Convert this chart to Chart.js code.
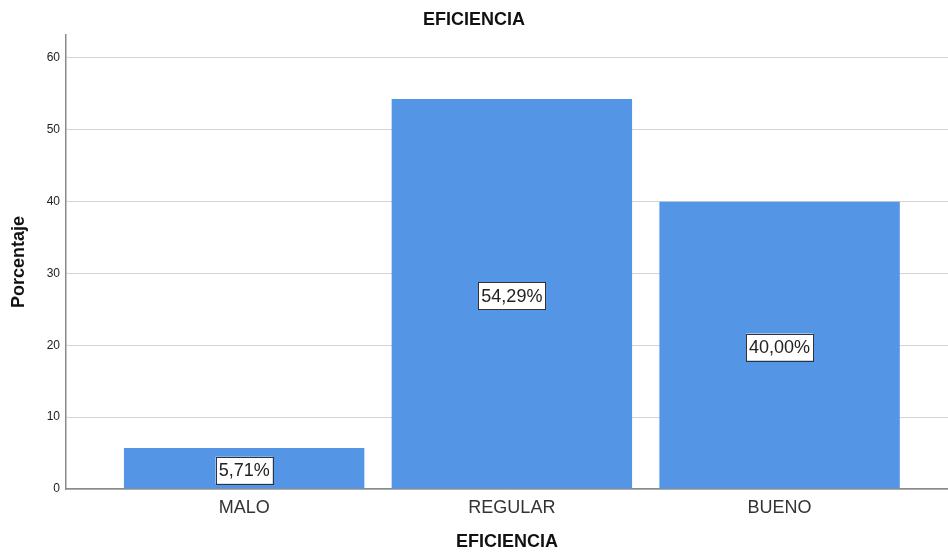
<!DOCTYPE html>
<html>
<head>
<meta charset="utf-8">
<script src="https://cdn.jsdelivr.net/npm/chart.js@4"></script>
<style>
  html, body { margin: 0; padding: 0; background: #fff; }
  #wrap { width: 948px; height: 553px; }
</style>
</head>
<body>
<div id="wrap"><canvas id="eficiencia"></canvas></div>
<script>
// data
let categorias = ['MALO', 'REGULAR', 'BUENO'];
let porcentajes = [5.71, 54.29, 40.00];
let yTicks = [0, 10, 20, 30, 40, 50, 60];

let fuente = "'Liberation Sans', Arial, sans-serif";

// bars sit on a linear x axis at 1, 2, 3 so the empty margin on the left matches
let puntos = porcentajes.map((v, i) => ({ x: i + 1, y: v }));

// boxed value labels in the middle of each bar
let etiquetas = {
  id: 'etiquetas',
  afterDatasetsDraw(chart) {
    let ctx = chart.ctx;
    let meta = chart.getDatasetMeta(0);
    ctx.save();
    ctx.font = '18px ' + fuente;
    ctx.textAlign = 'center';
    ctx.textBaseline = 'middle';
    meta.data.forEach((bar, i) => {
      let txt = porcentajes[i].toFixed(2).replace('.', ',') + '%';
      let w = ctx.measureText(txt).width + 6;
      let h = 27;
      let cx = bar.x;
      let cy = (bar.y + bar.base) / 2 + 2;
      ctx.fillStyle = '#ffffff';
      ctx.fillRect(cx - w / 2, cy - h / 2, w, h);
      ctx.strokeStyle = '#333333';
      ctx.lineWidth = 1;
      ctx.strokeRect(Math.round(cx - w / 2) + 0.5, Math.round(cy - h / 2) + 0.5, Math.round(w), h);
      ctx.fillStyle = '#222222';
      ctx.fillText(txt, cx, cy + 1);
    });
    ctx.restore();
  }
};

new Chart(document.getElementById('eficiencia'), {
  type: 'bar',
  data: {
    datasets: [{
      label: 'Porcentaje',
      data: puntos,
      backgroundColor: 'rgb(84, 150, 229)',
      borderWidth: 0,
      categoryPercentage: 1,
      barPercentage: 0.898
    }]
  },
  options: {
    responsive: true,
    maintainAspectRatio: false,
    animation: false,
    layout: { padding: 0 },
    plugins: {
      legend: { display: false },
      tooltip: { enabled: false },
      title: {
        display: true,
        text: 'EFICIENCIA',
        color: '#111',
        font: { family: fuente, size: 18, weight: 'bold' },
        padding: { top: 9, bottom: 4.4 }
      }
    },
    scales: {
      x: {
        type: 'linear',
        offset: false,
        min: 0.3346,
        max: 3.629,
        afterBuildTicks(scale) {
          scale.ticks = categorias.map((c, i) => ({ value: i + 1 }));
        },
        afterFit(scale) { scale.height = 64; },
        grid: { display: false, drawTicks: false },
        border: { display: true, color: '#8a8a8a', width: 1.5 },
        ticks: {
          color: '#333',
          font: { family: fuente, size: 18 },
          padding: 8,
          autoSkip: false,
          maxRotation: 0,
          callback: (v) => categorias[v - 1] || ''
        },
        title: {
          display: true,
          text: 'EFICIENCIA',
          color: '#111',
          font: { family: fuente, size: 18, weight: 'bold' },
          padding: { top: 0, bottom: 0 }
        }
      },
      y: {
        min: 0,
        max: 63.2,
        afterBuildTicks(scale) {
          scale.ticks = yTicks.map(v => ({ value: v }));
        },
        afterFit(scale) { scale.width = 66; },
        grid: { color: '#d4d4d4', lineWidth: 1, drawTicks: false },
        border: { display: true, color: '#8a8a8a', width: 1.5 },
        ticks: {
          color: '#222',
          font: { family: fuente, size: 12 },
          padding: 6
        },
        title: {
          display: true,
          text: 'Porcentaje',
          color: '#111',
          font: { family: fuente, size: 18, weight: 'bold' },
          padding: { top: 8, bottom: 0 }
        }
      }
    }
  },
  plugins: [etiquetas]
});
</script>
</body>
</html>
